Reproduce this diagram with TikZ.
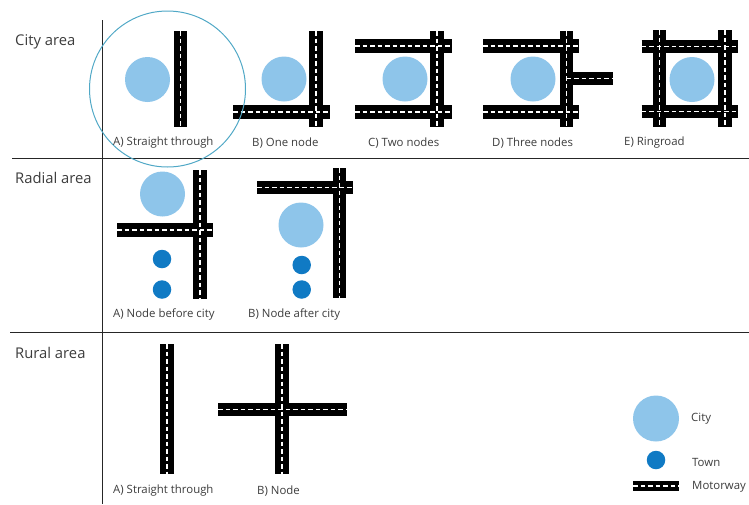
\documentclass[tikz,border=0pt]{standalone}
\usepackage{fontspec}
\setmainfont{Open Sans}
\definecolor{city}{RGB}{142,197,234}
\definecolor{town}{RGB}{16,122,196}
\definecolor{ring}{RGB}{80,168,198}
\definecolor{txt}{RGB}{60,60,60}
\begin{document}
\begin{tikzpicture}[x=1pt,y=-1pt,
  roadbase/.style={line width=13.5pt, black},
  roaddash/.style={line width=1.1pt, white, dash pattern=on 4.5pt off 3pt},
  citydisc/.style={circle, fill=city, inner sep=0pt, minimum size=45pt},
  towndisc/.style={circle, fill=town, inner sep=0pt, minimum size=18.5pt},
  area/.style={font=\fontsize{14.8}{16}\selectfont, text=txt, anchor=west, inner sep=0pt},
  sub/.style={font=\fontsize{11.4}{13}\selectfont, text=txt, anchor=west, inner sep=0pt},
  sep/.style={line width=0.8pt, black!85}]
\useasboundingbox (0,0) rectangle (749,504);
% separators
\draw[sep] (102,20) -- (102,504);
\draw[sep] (12,158) -- (749,158);
\draw[sep] (10,332) -- (749,332);
% area labels
\node[area] (lcity) at (15,42) {City area};
\node[area] (lradial) at (15,178) {Radial area};
\node[area] (lrural) at (15,353) {Rural area};
% roads
\def\roads{180.5/31/180.5/127, 316/31/316/127, 233/112/330/112,
  355/46/452/46, 355/112/452/112, 437/31/437/127,
  483/46/579/46, 483/112/579/112, 566.5/31/566.5/127, 566.5/78.7/613/78.7,
  659.3/30/659.3/127, 725/30/725/127, 641.5/46.5/737.5/46.5, 641.5/111.7/737.5/111.7,
  200/170/200/299, 117/230/213/230,
  257/187.5/353/187.5, 339.7/168/339.7/298,
  167/344/167/474,
  282/344/282/474, 218/409.7/347/409.7}
\foreach \a/\b/\c/\d in \roads { \draw[roadbase] (\a,\b) -- (\c,\d); }
\foreach \a/\b/\c/\d in \roads { \draw[roaddash] (\a,\b) -- (\c,\d); }
% cities
\node[citydisc] (ca) at (147.5,79.5) {};
\node[citydisc] (cb) at (284,79) {};
\node[citydisc] (cc) at (405,79) {};
\node[citydisc] (cd) at (533,79) {};
\node[citydisc] (ce) at (692,79.5) {};
\node[citydisc] (ra) at (162.5,194) {};
\node[citydisc] (rb) at (301,225) {};
% towns
\node[towndisc] (ta1) at (162,259) {};
\node[towndisc] (ta2) at (162,289.5) {};
\node[towndisc] (tb1) at (301.7,265) {};
\node[towndisc] (tb2) at (301.7,289.5) {};
% highlight ring
\draw[ring, line width=1pt] (167.5,89) circle[radius=78];
% sub labels
\node[sub] (s1) at (113,143) {A) Straight through};
\node[sub] (s2) at (252,143) {B) One node};
\node[sub] (s3) at (368,143) {C) Two nodes};
\node[sub] (s4) at (492,143) {D) Three nodes};
\node[sub] (s5) at (624,143) {E) Ringroad};
\node[sub] (s6) at (113,315) {A) Node before city};
\node[sub] (s7) at (248,315) {B) Node after city};
\node[sub] (s8) at (113,491) {A) Straight through};
\node[sub] (s9) at (257,491) {B) Node};
% legend
\node[citydisc, minimum size=46pt] (lgc) at (656,418.5) {};
\node[towndisc] (lgt) at (656,460) {};
\coordinate (lgm1) at (633,486);
\coordinate (lgm2) at (679,486);
\draw[black, line width=9.5pt] (lgm1) -- (lgm2);
\draw[roaddash] (lgm1) -- (lgm2);
\node[sub] (lc) at (691,419) {City};
\node[sub] (lt) at (692,462) {Town};
\node[sub] (lm) at (692,487) {Motorway};
\end{tikzpicture}
\end{document}
